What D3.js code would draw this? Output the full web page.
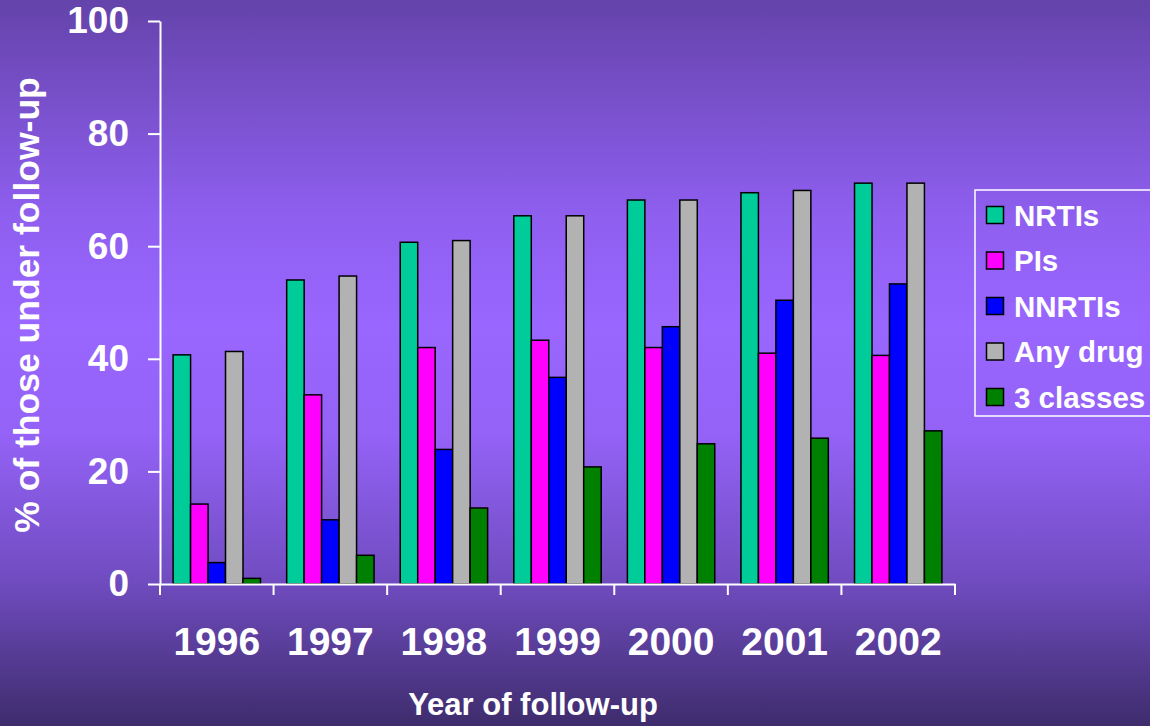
<!DOCTYPE html>
<html>
<head>
<meta charset="utf-8">
<script src="https://cdn.jsdelivr.net/npm/d3@7"></script>
<style>
  html, body { margin: 0; padding: 0; background: #6a48b4; }
  svg { display: block; }
  text { font-family: "Liberation Sans", Arial, sans-serif; font-weight: bold; fill: #fff; }
</style>
</head>
<body>
<svg id="chart" width="1150" height="726"></svg>
<script>
// Resistance by drug class, per year of follow-up (%)
const years = ["1996", "1997", "1998", "1999", "2000", "2001", "2002"];
const seriesNames = ["NRTIs", "PIs", "NNRTIs", "Any drug", "3 classes"];
const seriesColors = ["#00cc99", "#ff00ff", "#0000ff", "#b2b2b2", "#008000"];
const nrtis    = [40.7, 54.0, 60.7, 65.4, 68.2, 69.5, 71.2];
const pis      = [14.2, 33.6, 42.0, 43.3, 42.0, 41.0, 40.6];
const nnrtis   = [3.8, 11.4, 23.9, 36.7, 45.7, 50.4, 53.3];
const anyDrug  = [41.3, 54.7, 61.0, 65.4, 68.2, 69.9, 71.2];
const threeCls = [1.0, 5.1, 13.5, 20.8, 24.9, 25.9, 27.2];
const yTicks = [0, 20, 40, 60, 80, 100];

const seriesValues = [nrtis, pis, nnrtis, anyDrug, threeCls];

const svg = d3.select("#chart");

// background gradient
const defs = svg.append("defs");
const grad = defs.append("linearGradient")
  .attr("id", "bg").attr("x1", 0).attr("y1", 0).attr("x2", 0).attr("y2", 1);
[[0, "#6443aa"], [0.3, "#8f5ff0"], [0.45, "#9966ff"], [0.6, "#9462f6"],
 [0.8, "#704cc0"], [1, "#3e2c6c"]].forEach(([o, c]) =>
  grad.append("stop").attr("offset", o).attr("stop-color", c));
svg.append("rect").attr("width", 1150).attr("height", 726).attr("fill", "url(#bg)");

const x0 = 160, x1 = 955, yTop = 21, yBase = 584;

const x = d3.scaleBand().domain(years).range([x0, x1]).paddingInner(0).paddingOuter(0);
const xs = d3.scaleBand().domain(seriesNames).range([0, x.bandwidth()])
  .paddingInner(0).paddingOuter(0.75);
const y = d3.scaleLinear().domain([0, 100]).range([yBase, yTop]);

// bars
const groups = svg.append("g").selectAll("g")
  .data(years)
  .join("g")
  .attr("transform", d => `translate(${x(d)},0)`);

groups.selectAll("rect")
  .data((yr, i) => seriesNames.map((s, k) => ({ s, k, v: seriesValues[k][i] })))
  .join("rect")
  .attr("x", d => xs(d.s))
  .attr("width", xs.bandwidth())
  .attr("y", d => y(d.v))
  .attr("height", d => yBase - y(d.v))
  .attr("fill", d => seriesColors[d.k])
  .attr("stroke", "#000")
  .attr("stroke-width", 1.5);

// y axis
const yAxis = svg.append("g")
  .attr("transform", `translate(${x0},0)`)
  .call(d3.axisLeft(y).tickValues(yTicks).tickSize(12).tickSizeOuter(0).tickPadding(19));
yAxis.select(".domain").attr("stroke", "#fff").attr("stroke-width", 2);
yAxis.selectAll(".tick line").attr("stroke", "#fff").attr("stroke-width", 2);
yAxis.selectAll(".tick text").attr("font-size", 37).attr("fill", "#fff");

// x axis
const xAxis = svg.append("g")
  .attr("transform", `translate(0,${yBase})`)
  .call(d3.axisBottom(x).tickSize(0).tickSizeOuter(0));
xAxis.select(".domain").attr("stroke", "#fff").attr("stroke-width", 2);
xAxis.selectAll(".tick text")
  .attr("font-size", 39).attr("fill", "#fff")
  .attr("y", 57).attr("dy", "0.35em");

// category boundary ticks
const bounds = years.map(d => x(d)).concat([x1]);
svg.append("g").selectAll("line")
  .data(bounds)
  .join("line")
  .attr("x1", d => d).attr("x2", d => d)
  .attr("y1", yBase).attr("y2", yBase + 11)
  .attr("stroke", "#fff").attr("stroke-width", 2);

// axis titles
svg.append("text")
  .attr("x", 533).attr("y", 715)
  .attr("text-anchor", "middle")
  .attr("font-size", 31)
  .text("Year of follow-up");

svg.append("text")
  .attr("transform", "translate(39,305) rotate(-90)")
  .attr("text-anchor", "middle")
  .attr("font-size", 35.5)
  .text("% of those under follow-up");

// legend
const legend = svg.append("g");
legend.append("rect")
  .attr("x", 975).attr("y", 190).attr("width", 200).attr("height", 226)
  .attr("fill", "none").attr("stroke", "#fff").attr("stroke-width", 1.5);
const rows = legend.selectAll("g.row")
  .data(seriesNames)
  .join("g")
  .attr("class", "row")
  .attr("transform", (d, i) => `translate(0,${215 + i * 45.5})`);
rows.append("rect")
  .attr("x", 986.5).attr("y", -8.5).attr("width", 17).attr("height", 17)
  .attr("fill", (d, i) => seriesColors[i])
  .attr("stroke", "#000").attr("stroke-width", 1.5);
rows.append("text")
  .attr("x", 1014).attr("y", 0).attr("dy", "0.36em")
  .attr("font-size", 29.5)
  .text(d => d);
</script>
</body>
</html>
